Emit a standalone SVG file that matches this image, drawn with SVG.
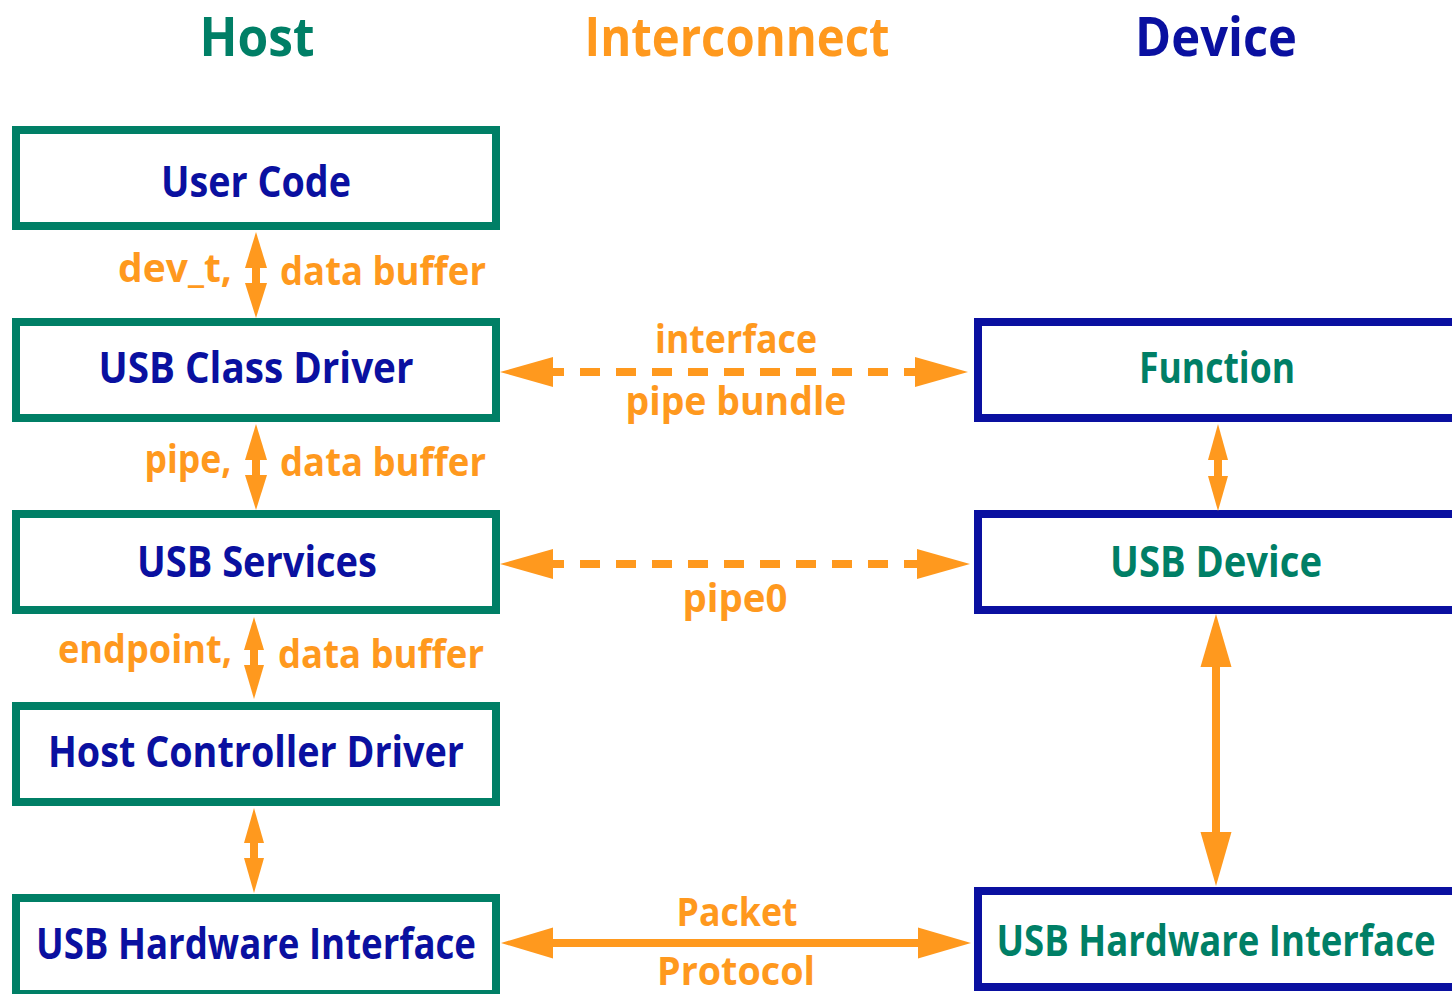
<svg xmlns="http://www.w3.org/2000/svg" width="1452" height="994" viewBox="0 0 1452 994">
  <style>
    text { font-family: "Open Sans", "DejaVu Sans", sans-serif; font-weight: 700; text-anchor: middle; }
    .hdr { font-size: 54px; font-weight: 700; }
    .hostbox { fill: #ffffff; stroke: #007f66; stroke-width: 8; }
    .devbox { fill: #ffffff; stroke: #0a10a0; stroke-width: 8; }
    .hosttxt { fill: #0a10a0; font-size: 43px; }
    .devtxt { fill: #007f66; font-size: 43px; }
    .lbl { fill: #ff991e; font-size: 40px; }
    .head { fill: #ff991e; }
    .shaft { stroke: #ff991e; stroke-width: 8; fill: none; }
    .dash { stroke: #ff991e; stroke-width: 8; fill: none; stroke-dasharray: 20 16; }
  </style>

  <!-- column headings -->
  <g id="headings">
    <text class="hdr" x="257" y="56" fill="#007f66" textLength="115" lengthAdjust="spacingAndGlyphs">Host</text>
    <text class="hdr" x="737" y="56" fill="#ff991e" textLength="305" lengthAdjust="spacingAndGlyphs">Interconnect</text>
    <text class="hdr" x="1216" y="56" fill="#0a10a0" textLength="162" lengthAdjust="spacingAndGlyphs">Device</text>
  </g>

  <!-- host stack -->
  <g id="user-code">
    <rect class="hostbox" x="16" y="130" width="480" height="96"/>
    <text class="hosttxt" x="256" y="197" textLength="190" lengthAdjust="spacingAndGlyphs">User Code</text>
  </g>
  <g id="usb-class-driver">
    <rect class="hostbox" x="16" y="322" width="480" height="96"/>
    <text class="hosttxt" x="256" y="383" textLength="315" lengthAdjust="spacingAndGlyphs">USB Class Driver</text>
  </g>
  <g id="usb-services">
    <rect class="hostbox" x="16" y="514" width="480" height="96"/>
    <text class="hosttxt" x="257" y="577" textLength="240" lengthAdjust="spacingAndGlyphs">USB Services</text>
  </g>
  <g id="host-controller-driver">
    <rect class="hostbox" x="16" y="706" width="480" height="96"/>
    <text class="hosttxt" x="256" y="767" textLength="416" lengthAdjust="spacingAndGlyphs">Host Controller Driver</text>
  </g>
  <g id="host-hw-interface">
    <rect class="hostbox" x="16" y="898" width="480" height="96"/>
    <text class="hosttxt" x="256" y="959" textLength="440" lengthAdjust="spacingAndGlyphs">USB Hardware Interface</text>
  </g>

  <!-- device stack -->
  <g id="function">
    <rect class="devbox" x="978" y="322" width="480" height="96"/>
    <text class="devtxt" x="1217" y="383" textLength="156" lengthAdjust="spacingAndGlyphs">Function</text>
  </g>
  <g id="usb-device">
    <rect class="devbox" x="978" y="514" width="480" height="96"/>
    <text class="devtxt" x="1216" y="577" textLength="212" lengthAdjust="spacingAndGlyphs">USB Device</text>
  </g>
  <g id="device-hw-interface">
    <rect class="devbox" x="978" y="891" width="480" height="96"/>
    <text class="devtxt" x="1216" y="956" textLength="439" lengthAdjust="spacingAndGlyphs">USB Hardware Interface</text>
  </g>

  <!-- connectors -->
  <g id="connectors">
    <!-- host vertical links -->
    <path class="shaft" d="M256 266 V285"/>
    <polygon class="head" points="256,232 267,268 245,268"/>
    <polygon class="head" points="256,318 267,283 245,283"/>

    <path class="shaft" d="M256 458 V477"/>
    <polygon class="head" points="256,424 267,460 245,460"/>
    <polygon class="head" points="256,510 267,475 245,475"/>

    <path class="shaft" d="M254 648 V667"/>
    <polygon class="head" points="254,617 264,650 244,650"/>
    <polygon class="head" points="254,699 264,665 244,665"/>

    <path class="shaft" d="M254 841 V860"/>
    <polygon class="head" points="254,808 264,843 244,843"/>
    <polygon class="head" points="254,893 264,858 244,858"/>

    <!-- device vertical links -->
    <path class="shaft" d="M1218 458 V478"/>
    <polygon class="head" points="1218,424 1228,460 1208,460"/>
    <polygon class="head" points="1218,511 1228,476 1208,476"/>

    <path class="shaft" d="M1216 665 V834"/>
    <polygon class="head" points="1216,614 1231.5,667 1200.5,667"/>
    <polygon class="head" points="1216,886 1231.5,832 1200.5,832"/>

    <!-- interface / pipe bundle -->
    <path class="dash" d="M544 372 H924"/>
    <polygon class="head" points="500,372 553,357 553,387"/>
    <polygon class="head" points="968,372 915,357 915,387"/>

    <!-- pipe0 -->
    <path class="dash" d="M544 564 H924"/>
    <polygon class="head" points="500,564 553,549 553,579"/>
    <polygon class="head" points="970,564 917,549 917,579"/>

    <!-- packet protocol -->
    <path class="shaft" d="M550 943 H921"/>
    <polygon class="head" points="501,943 553,927.5 553,958.5"/>
    <polygon class="head" points="971,943 918,927.5 918,958.5"/>
  </g>

  <!-- connector labels -->
  <g id="labels">
    <text class="lbl" x="175" y="282" textLength="114" lengthAdjust="spacingAndGlyphs">dev_t,</text>
    <text class="lbl" x="383" y="285" textLength="206" lengthAdjust="spacingAndGlyphs">data buffer</text>
    <text class="lbl" x="188" y="473" textLength="87" lengthAdjust="spacingAndGlyphs">pipe,</text>
    <text class="lbl" x="383" y="476" textLength="206" lengthAdjust="spacingAndGlyphs">data buffer</text>
    <text class="lbl" x="145" y="663" textLength="174" lengthAdjust="spacingAndGlyphs">endpoint,</text>
    <text class="lbl" x="381" y="668" textLength="206" lengthAdjust="spacingAndGlyphs">data buffer</text>
    <text class="lbl" x="736" y="353" textLength="162" lengthAdjust="spacingAndGlyphs">interface</text>
    <text class="lbl" x="736" y="415" textLength="221" lengthAdjust="spacingAndGlyphs">pipe bundle</text>
    <text class="lbl" x="735" y="612" textLength="105" lengthAdjust="spacingAndGlyphs">pipe0</text>
    <text class="lbl" x="737" y="926" textLength="121" lengthAdjust="spacingAndGlyphs">Packet</text>
    <text class="lbl" x="736" y="985" textLength="158" lengthAdjust="spacingAndGlyphs">Protocol</text>
  </g>
</svg>
